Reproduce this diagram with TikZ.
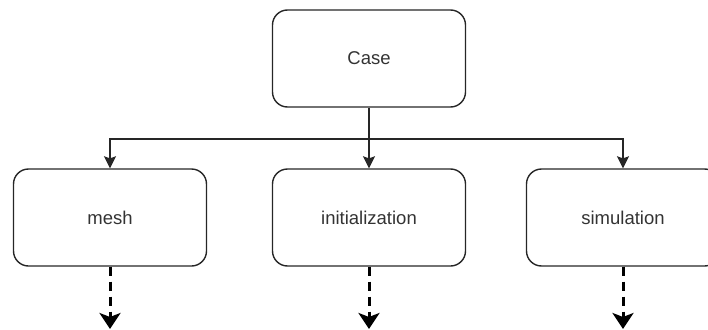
\documentclass[tikz,border=0pt]{standalone}
\usepackage{fontspec}
\setmainfont{Liberation Sans}
\usetikzlibrary{arrows.meta}
\definecolor{txt}{HTML}{333333}
\tikzset{
  box/.style={draw=black!85, line width=1.4pt, rounded corners=15pt, minimum width=193pt, minimum height=97pt, inner sep=0pt, font=\fontsize{18.5}{22}\selectfont, text=txt},
  link/.style={draw=black!85, line width=1.4pt, -{Stealth[width=12pt,length=12pt,inset=2pt]}},
  dlink/.style={draw=black, line width=3pt, dash pattern=on 9pt off 6pt, -{Stealth[width=21pt,length=16pt,inset=4pt]}}
}
\begin{document}
\begin{tikzpicture}[x=1pt,y=-1pt]
\useasboundingbox (0,0) rectangle (708,329);
\clip (0,0) rectangle (708,329);
\node[box] (case) at (369,58.5) {Case};
\node[box] (mesh) at (110,217.5) {mesh};
\node[box] (init) at (369,217.5) {initialization};
\node[box] (sim) at (623,217.5) {simulation};
\coordinate (j) at (369,139);
\coordinate (e1) at (110,329);
\coordinate (e2) at (369,329);
\coordinate (e3) at (623,329);
\draw[link] (case.south) -- (init.north);
\draw[link] (j) -| (mesh.north);
\draw[link] (j) -| (sim.north);
\draw[dlink] (mesh.south) -- (e1);
\draw[dlink] (init.south) -- (e2);
\draw[dlink] (sim.south) -- (e3);
\end{tikzpicture}
\end{document}
